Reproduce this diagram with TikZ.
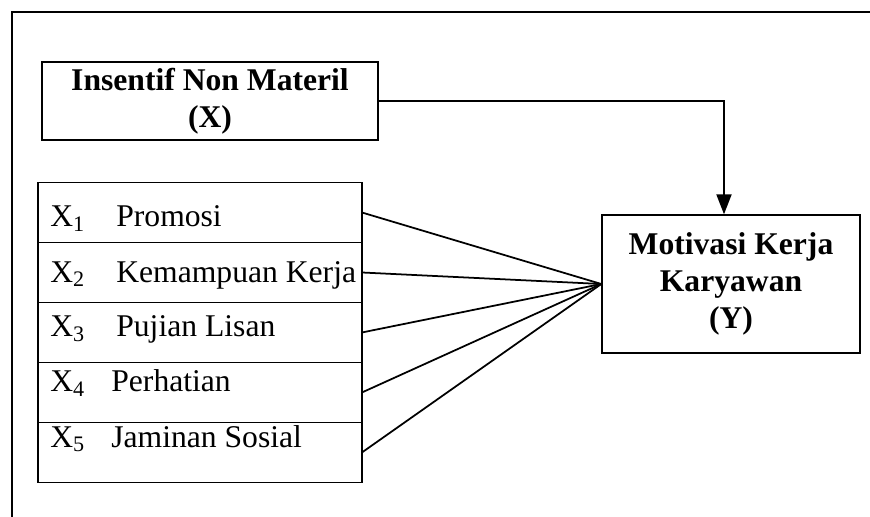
\documentclass[tikz,border=0pt]{standalone}
\usepackage{fontspec}
\setmainfont{Liberation Serif}
\usetikzlibrary{arrows.meta,positioning}

\begin{document}
\begin{tikzpicture}[
    x=0.02cm, y=-0.02cm,
    box/.style={draw, line width=0.8pt, align=center, inner sep=0pt, font=\fontsize{18}{21}\selectfont\bfseries},
    row/.style={draw, line width=1pt, minimum width=6.48cm, minimum height=1.2cm, inner sep=0pt, outer sep=0pt},
    lbl/.style={anchor=base west, inner sep=0pt, font=\fontsize{18}{21}\selectfont},
    arr/.style={-{Triangle[length=0.4cm, width=0.3cm]}, line width=1.1pt},
    lnk/.style={line width=1pt}
]
\useasboundingbox (0,0) rectangle (870,517);
% frame
\draw[line width=1.3pt] (12,517) -- (12,12) -- (870,12);

% variable X
\node[box, line width=1.4pt, minimum width=6.72cm, minimum height=1.56cm] (x) at (210,101) {Insentif Non Materil\\(X)};

% variable Y
\node[box, minimum width=5.16cm, minimum height=2.76cm] (y) at (731,284) {Motivasi Kerja\\Karyawan\\(Y)};

% indicators
\node[row] (r1) at (200,212.5) {};
\node[row, below=0pt of r1] (r2) {};
\node[row, below=0pt of r2] (r3) {};
\node[row, below=0pt of r3] (r4) {};
\node[row, below=0pt of r4] (r5) {};

\node[lbl] (x1) at (50,227) {X\textsubscript{1}};
\node[lbl] (t1) at (116,227) {Promosi};
\node[lbl] (x2) at (50,282) {X\textsubscript{2}};
\node[lbl] (t2) at (116,282) {Kemampuan Kerja};
\node[lbl] (x3) at (50,337) {X\textsubscript{3}};
\node[lbl] (t3) at (116,337) {Pujian Lisan};
\node[lbl] (x4) at (50,392) {X\textsubscript{4}};
\node[lbl] (t4) at (111,392) {Perhatian};
\node[lbl] (x5) at (50,447) {X\textsubscript{5}};
\node[lbl] (t5) at (111,447) {Jaminan Sosial};

% connectors
\draw[arr] (x.east) -| ([xshift=-0.14cm]y.north);
\draw[lnk] (r1.east) -- (y.west);
\draw[lnk] (r2.east) -- (y.west);
\draw[lnk] (r3.east) -- (y.west);
\draw[lnk] (r4.east) -- (y.west);
\draw[lnk] (r5.east) -- (y.west);
\end{tikzpicture}
\end{document}
